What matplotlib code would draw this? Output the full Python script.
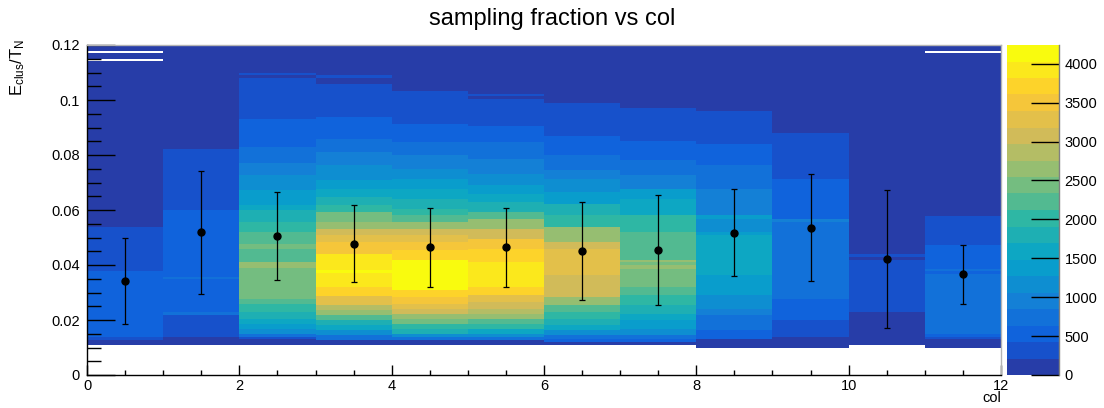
import numpy as np
import matplotlib
matplotlib.use("Agg")
import matplotlib.pyplot as plt
from matplotlib.colors import LinearSegmentedColormap, ListedColormap, BoundaryNorm
from matplotlib.cm import ScalarMappable
from matplotlib.ticker import MultipleLocator, FuncFormatter
from matplotlib.lines import Line2D

plt.rcParams['font.family'] = ['Liberation Sans', 'DejaVu Sans']

# ---------------- data ----------------
# per column: y bin edges (E_clus/T_N) and counts per band (0 = empty)
c0_y = [0.0110, 0.0126, 0.0138, 0.0379, 0.0538, 0.1143, 0.1150, 0.1171, 0.1177, 0.1200]
c0_n = [100, 320, 530, 320, 100, 0, 100, 0, 100]

c1_y = [0.0110, 0.0138, 0.0220, 0.0229, 0.0350, 0.0357, 0.0599, 0.0821, 0.1200]
c1_n = [100, 320, 740, 530, 740, 530, 320, 100]

c2_y = [0.011, 0.013, 0.0138, 0.015, 0.0168, 0.0187, 0.0205, 0.0229, 0.0259, 0.0278, 0.0389,
        0.0411, 0.0459, 0.0478, 0.052, 0.0556, 0.0599, 0.0617, 0.0672, 0.0726, 0.0772, 0.0829,
        0.093, 0.108, 0.109, 0.1098, 0.12]
c2_n = [100, 320, 740, 1160, 1380, 1590, 1800, 2010, 2230, 2440, 2650, 2230, 2440, 2230, 2010,
        1800, 1590, 1380, 1160, 950, 740, 530, 320, 100, 320, 100]

c3_y = [0.011, 0.0128, 0.0144, 0.0162, 0.0181, 0.0199, 0.0217, 0.0235, 0.0253, 0.0287, 0.032,
        0.0372, 0.0381, 0.0441, 0.0484, 0.0508, 0.0532, 0.0556, 0.0593, 0.0617, 0.0647, 0.0678,
        0.0708, 0.0762, 0.0811, 0.0859, 0.0938, 0.106, 0.108, 0.109, 0.12]
c3_n = [100, 740, 1160, 1590, 1800, 2230, 2650, 2860, 3280, 3710, 3920, 4130, 3920, 3500, 3280,
        3070, 2650, 2440, 2010, 1800, 1590, 1380, 1160, 950, 740, 530, 320, 100, 320, 100]

c4_y = [0.011, 0.0128, 0.0138, 0.015, 0.0168, 0.0187, 0.0205, 0.0223, 0.0241, 0.0259, 0.0284,
        0.0308, 0.0417, 0.0453, 0.0484, 0.0508, 0.0532, 0.0556, 0.0581, 0.0605, 0.0641, 0.0678,
        0.0714, 0.075, 0.0799, 0.0847, 0.0914, 0.1031, 0.12]
c4_n = [100, 740, 1160, 1800, 2010, 2440, 2650, 3070, 3280, 3500, 3710, 4130, 3710, 3500, 3280,
        3070, 2650, 2230, 2010, 1800, 1590, 1380, 1160, 950, 740, 530, 320, 100]

c5_y = [0.011, 0.0126, 0.0138, 0.015, 0.0168, 0.0187, 0.0205, 0.0223, 0.0241, 0.0265, 0.029,
        0.032, 0.0411, 0.0459, 0.0496, 0.0532, 0.0568, 0.0593, 0.0629, 0.0659, 0.069, 0.0732,
        0.0787, 0.0847, 0.0905, 0.1002, 0.1015, 0.1023, 0.12]
c5_n = [100, 740, 1160, 1590, 2010, 2230, 2650, 2860, 3070, 3280, 3710, 3920, 3710, 3500, 3070,
        2650, 2230, 1800, 1590, 1380, 1160, 950, 740, 530, 320, 100, 320, 100]

c6_y = [0.011, 0.012, 0.0132, 0.0144, 0.0162, 0.0181, 0.0205, 0.0229, 0.0253, 0.0284, 0.0362,
        0.0459, 0.0484, 0.0538, 0.0581, 0.0623, 0.0665, 0.0714, 0.0744, 0.0799, 0.0869, 0.0989, 0.12]
c6_n = [100, 530, 740, 1160, 1590, 1800, 2010, 2230, 2650, 3070, 3280, 3070, 2650, 2010, 1800,
        1380, 1160, 950, 740, 530, 320, 100]

c7_y = [0.011, 0.012, 0.0132, 0.0144, 0.0168, 0.0199, 0.0223, 0.0253, 0.029, 0.032, 0.0387,
        0.0399, 0.0411, 0.0417, 0.052, 0.0581, 0.0641, 0.0678, 0.0726, 0.0781, 0.085, 0.0972, 0.12]
c7_n = [100, 530, 740, 1160, 1380, 1590, 1800, 2010, 2230, 2440, 2650, 2440, 2650, 2230, 2010,
        1590, 1380, 950, 740, 530, 320, 100]

c8_y = [0.0098, 0.0132, 0.0162, 0.0217, 0.0241, 0.029, 0.0362, 0.0508, 0.052, 0.0568, 0.0581,
        0.0678, 0.0762, 0.0841, 0.096, 0.12]
c8_n = [100, 530, 740, 950, 1160, 1380, 1590, 1380, 1160, 1380, 950, 740, 530, 320, 100]

c9_y = [0.0098, 0.0138, 0.0199, 0.0278, 0.0556, 0.0568, 0.0711, 0.0881, 0.12]
c9_n = [100, 320, 530, 740, 950, 530, 320, 100]

c10_y = [0.011, 0.0229, 0.0417, 0.0429, 0.0439, 0.12]
c10_n = [100, 320, 100, 320, 100]

c11_y = [0.0098, 0.0132, 0.0138, 0.015, 0.0368, 0.0377, 0.0387, 0.0472, 0.0578, 0.117, 0.1177, 0.12]
c11_n = [100, 320, 530, 740, 530, 740, 530, 320, 100, 0, 100]

col_edges = [0, 1, 2, 3, 4, 5, 6, 7, 8, 9, 10, 11, 12]
col_y = [c0_y, c1_y, c2_y, c3_y, c4_y, c5_y, c6_y, c7_y, c8_y, c9_y, c10_y, c11_y]
col_n = [c0_n, c1_n, c2_n, c3_n, c4_n, c5_n, c6_n, c7_n, c8_n, c9_n, c10_n, c11_n]

# profile (mean and spread) per column
prof_x = [0.5, 1.5, 2.5, 3.5, 4.5, 5.5, 6.5, 7.5, 8.5, 9.5, 10.5, 11.5]
prof_mean = [0.0342, 0.0519, 0.0507, 0.0478, 0.0464, 0.0464, 0.0450, 0.0455, 0.0518, 0.0536, 0.0421, 0.0366]
prof_err = [0.0158, 0.0224, 0.0160, 0.0141, 0.0143, 0.0145, 0.0178, 0.0200, 0.0159, 0.0194, 0.0250, 0.0106]

z_max = 4240
z_ticks = [0, 500, 1000, 1500, 2000, 2500, 3000, 3500, 4000]
n_contours = 20

# ---------------- palette (ROOT kBird) ----------------
stops = [0.0, 0.125, 0.25, 0.375, 0.5, 0.625, 0.75, 0.875, 1.0]
red = [0.2082, 0.0592, 0.0780, 0.0232, 0.1802, 0.5301, 0.8186, 0.9956, 0.9764]
green = [0.1664, 0.3599, 0.5041, 0.6419, 0.7178, 0.7492, 0.7328, 0.7862, 0.9832]
blue = [0.5293, 0.8684, 0.8385, 0.7914, 0.6425, 0.4662, 0.3499, 0.1968, 0.0539]
bird = LinearSegmentedColormap.from_list(
    "bird", list(zip(stops, zip(red, green, blue))), N=255)
level_colors = [bird(int((i + 0.99) * 255 / n_contours) / 254.0) for i in range(n_contours)]
cmap = ListedColormap(level_colors)
levels = np.linspace(0, z_max, n_contours + 1)
norm = BoundaryNorm(levels, cmap.N)

# ---------------- figure ----------------
W, H = 1104, 408
fig = plt.figure(figsize=(W / 100, H / 100), dpi=100)
ax = fig.add_axes([87 / W, 33 / H, 914 / W, 330 / H])
cax = fig.add_axes([1007 / W, 33 / H, 52 / W, 330 / H])

for i in range(len(col_y)):
    C = np.ma.masked_equal(np.array(col_n[i], dtype=float).reshape(-1, 1), 0)
    ax.pcolormesh(col_edges[i:i + 2], col_y[i], C, cmap=cmap, norm=norm,
                  shading='flat', antialiased=False, rasterized=True)

ax.errorbar(prof_x, prof_mean, yerr=prof_err, fmt='o', color='black', ms=5,
            elinewidth=0.9, capsize=2, capthick=0.9, zorder=3)

ax.set_xlim(0, 12)
ax.set_ylim(0, 0.12)
ax.xaxis.set_major_locator(MultipleLocator(2))
ax.xaxis.set_minor_locator(MultipleLocator(0.5))
ax.yaxis.set_major_locator(MultipleLocator(0.02))
ax.yaxis.set_minor_locator(MultipleLocator(0.005))
fmt = FuncFormatter(lambda v, p: ('%g' % round(v, 4)))
ax.xaxis.set_major_formatter(fmt)
ax.yaxis.set_major_formatter(fmt)
ax.tick_params(which='both', direction='in', top=False, right=False,
               color='black', width=1, labelsize=10.5)
ax.tick_params(axis='x', which='major', length=7.5, pad=3)
ax.tick_params(axis='x', which='minor', length=3.6)
ax.tick_params(axis='y', which='major', length=20, pad=5)
ax.tick_params(axis='y', which='minor', length=10)
for s in ['left', 'bottom']:
    ax.spines[s].set_color('black')
    ax.spines[s].set_linewidth(1)
for s in ['top', 'right']:
    ax.spines[s].set_color('#b4b4b4')
    ax.spines[s].set_linewidth(1)

cb = fig.colorbar(ScalarMappable(norm=norm, cmap=cmap), cax=cax, ticks=z_ticks)
cb.outline.set_visible(False)
cax.minorticks_off()
cax.tick_params(direction='in', length=20, width=1, color='black', labelsize=10.5, pad=4)
cax.add_line(Line2D([1, 1], [0, 1], transform=cax.transAxes, color='#808080', lw=1, clip_on=False))

fig.text(0.5, 1 - 19 / H, 'sampling fraction vs col', ha='center', va='center', fontsize=17)
fig.text(18 / W, 1 - 68 / H, r'$\mathregular{E_{clus}/T_{N}}$', rotation=90,
         ha='center', va='center', fontsize=12)
fig.text(1001 / W, 1 - 398 / H, 'col', ha='right', va='center', fontsize=10.5)

fig.savefig('out.png', dpi=100)
